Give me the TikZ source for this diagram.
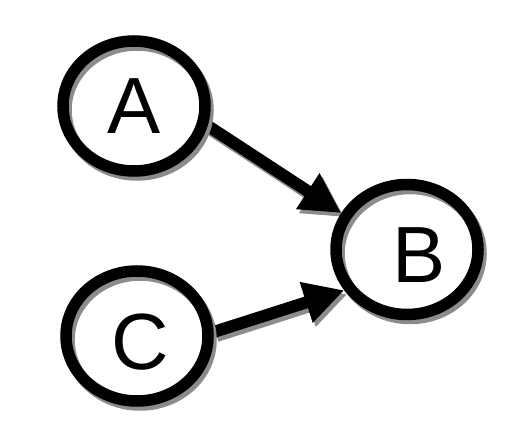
\documentclass[tikz,border=0pt]{standalone}
\usepackage{fontspec}
\setmainfont{Liberation Sans}
\usetikzlibrary{arrows.meta,shapes.geometric}
\pgfdeclarelayer{bg}
\pgfsetlayers{bg,main}
\begin{document}
\begin{tikzpicture}[x=1bp,y=-1bp,
  ring/.style={ellipse, draw=black, line width=11.5bp, minimum width=142bp, minimum height=130bp, inner sep=0pt},
  ringshadow/.style={ring, draw=black!45},
  lbl/.style={font=\fontsize{80}{90}\selectfont, inner sep=0pt},
  link/.style={line width=12bp, -{Triangle[length=40bp,width=40bp]}},
  linkshadow/.style={link, color=black!45}]
\useasboundingbox (0,0) rectangle (524,441);
% ring shadows
\node[ringshadow] (As) at (137,110) {};
\node[ringshadow] (Bs) at (410,253.5) {};
\node[ringshadow] (Cs) at (140,340) {};
% rings
\node[ring, label={[lbl]center:A}] (A) at (134,106) {};
\node[ring, label={[lbl,xshift=12bp,yshift=-5.5bp]center:B}] (B) at (407,249.5) {};
\node[ring, label={[lbl,xshift=3bp,yshift=-6bp]center:C}] (C) at (137,336) {};
% connectors
\begin{pgfonlayer}{bg}
  \draw[linkshadow, transform canvas={shift={(3,4)}}] (A.-15) -- (B.151);
  \draw[linkshadow, transform canvas={shift={(3,4)}}] (C.3) -- (B.213);
  \draw[link] (A.-15) -- (B.151);
  \draw[link] (C.3) -- (B.213);
\end{pgfonlayer}
\end{tikzpicture}
\end{document}
